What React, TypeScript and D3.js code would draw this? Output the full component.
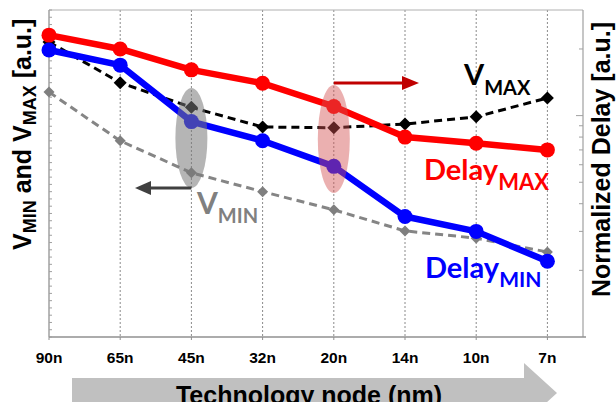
import React from "react";
import * as d3 from "d3";

const categories = ["90n", "65n", "45n", "32n", "20n", "14n", "10n", "7n"];
const delayMax = [23.1, 20.0, 16.1, 14.0, 11.0, 8.0, 7.5, 7.0];
const delayMin = [19.8, 16.9, 9.4, 7.7, 5.9, 3.5, 3.0, 2.2];
const vMax = [40.6, 35.0, 31.6, 28.9, 28.8, 29.3, 30.3, 32.9];
const vMin = [33.7, 27.0, 22.6, 20.0, 17.5, 14.6, 13.6, 11.7];
const rightTicks = [2, 3, 4, 5, 6, 7, 8, 9, 10, 20];

const W = 616, H = 402;
const L = 49, R = 583, T = 10, B = 337;
const AR = "'Liberation Sans', Arial, sans-serif";
const CAL = "Lato, 'Open Sans', sans-serif";

export default function App() {
  const step = (R - L) / 7.5;
  const x = d3.scalePoint<string>().domain(categories).range([L, L + step * 7]);
  const yL = d3.scaleLinear().domain([0, 45]).range([B, T]);
  const yR = d3.scaleLog().domain([1, 30]).range([B, T]);

  const lineL = d3.line<number>().x((_, i) => x(categories[i])!).y((d) => yL(d));
  const lineR = d3.line<number>().x((_, i) => x(categories[i])!).y((d) => yR(d));

  const diamond = (cx: number, cy: number, s: number) =>
    `M${cx},${cy - s}L${cx + s},${cy}L${cx},${cy + s}L${cx - s},${cy}Z`;

  const leftTicks = d3.range(0, 46);
  const x45 = x("45n")!;
  const x20 = x("20n")!;

  return (
    <svg width={W} height={H} style={{ position: "fixed", left: 0, top: 0, background: "#fff" }}>
      {/* grid */}
      {categories.slice(1).map((c) => (
        <line key={c} x1={x(c)} x2={x(c)} y1={T} y2={B} stroke="#8a8a8a" strokeWidth={1} strokeDasharray="2,2" />
      ))}
      {/* frame */}
      <line x1={L} x2={R} y1={T} y2={T} stroke="#b0b0b0" strokeWidth={1} />
      <line x1={R} x2={R} y1={T} y2={B} stroke="#a0a0a0" strokeWidth={1.2} />
      <line x1={L} x2={L} y1={T} y2={B} stroke="#a0a0a0" strokeWidth={1.5} />
      <line x1={L} x2={R + 3} y1={B} y2={B} stroke="#909090" strokeWidth={1.5} />
      {leftTicks.map((t) => (
        <line key={t} x1={L} x2={L + 3} y1={yL(t)} y2={yL(t)} stroke="#a0a0a0" strokeWidth={1} />
      ))}
      {rightTicks.map((t) => (
        <line key={t} x1={t === 10 ? R - 7 : R - 4} x2={R} y1={yR(t)} y2={yR(t)} stroke="#a0a0a0" strokeWidth={1} />
      ))}
      {categories.map((c) => (
        <line key={c} x1={x(c)} x2={x(c)} y1={B} y2={B + 3} stroke="#909090" strokeWidth={1} />
      ))}
      {/* tick labels */}
      {categories.map((c) => (
        <text key={c} x={x(c)} y={363} textAnchor="middle" fontFamily={AR} fontWeight="bold" fontSize={15.5} fill="#000">
          {c}
        </text>
      ))}

      {/* V lines */}
      <path d={lineL(vMin)!} fill="none" stroke="#858585" strokeWidth={3} strokeDasharray="8,5" />
      {vMin.map((v, i) => (
        <path key={i} d={diamond(x(categories[i])!, yL(v), 5.5)} fill="#7f7f7f" />
      ))}
      <path d={lineL(vMax)!} fill="none" stroke="#000" strokeWidth={3} strokeDasharray="8,5" />
      {vMax.map((v, i) => (
        <path key={i} d={diamond(x(categories[i])!, yL(v), 6.5)} fill="#000" />
      ))}

      {/* Delay lines */}
      <path d={lineR(delayMax)!} fill="none" stroke="#ff0000" strokeWidth={6.5} strokeLinejoin="round" />
      {delayMax.map((v, i) => (
        <circle key={i} cx={x(categories[i])} cy={yR(v)} r={7.5} fill="#ff0000" />
      ))}
      <path d={lineR(delayMin)!} fill="none" stroke="#0000ff" strokeWidth={6.5} strokeLinejoin="round" />
      {delayMin.map((v, i) => (
        <circle key={i} cx={x(categories[i])} cy={yR(v)} r={7.5} fill="#0000ff" />
      ))}

      {/* ellipses */}
      <ellipse cx={x45} cy={138} rx={16} ry={50} fill="rgba(120,120,120,0.55)" />
      <ellipse cx={x20} cy={139} rx={16} ry={54} fill="rgba(210,80,80,0.45)" />

      {/* arrows */}
      <line x1={x20} x2={404} y1={83} y2={83} stroke="#c00000" strokeWidth={3} />
      <path d="M402,76L419,83L402,90Z" fill="#c00000" />
      <line x1={x45} x2={149} y1={188} y2={188} stroke="#404040" strokeWidth={3} />
      <path d="M151,181L135,188L151,195Z" fill="#404040" />

      {/* labels */}
      <text x={464} y={85} fontFamily={CAL} fontWeight="bold" fontSize={29} fill="#000">
        V<tspan fontSize={20} dy={10}>MAX</tspan>
      </text>
      <text x={424} y={180} fontFamily={CAL} fontWeight="bold" fontSize={29} fill="#ff0000">
        Delay<tspan fontSize={22} dy={10}>MAX</tspan>
      </text>
      <text x={425} y={278} fontFamily={CAL} fontWeight="bold" fontSize={29} fill="#0000ff">
        Delay<tspan fontSize={21} dy={9}>MIN</tspan>
      </text>
      <text x={197} y={214} fontFamily={CAL} fontWeight="bold" fontSize={30} fill="#808080">
        V<tspan fontSize={20} dy={9}>MIN</tspan>
      </text>

      {/* axis titles */}
      <text transform="translate(31,250) rotate(-90)" fontFamily={AR} fontWeight="bold" fontSize={25} fill="#000">
        V<tspan fontSize={18} dy={5}>MIN</tspan><tspan dy={-5}> and V</tspan><tspan fontSize={18} dy={5}>MAX</tspan><tspan dy={-5}> [a.u.]</tspan>
      </text>
      <text transform="translate(610,297) rotate(-90)" fontFamily={AR} fontWeight="bold" fontSize={25} fill="#000">
        Normalized Delay [a.u.]
      </text>

      {/* bottom arrow */}
      <path d="M72,378L524,378L524,363L557,393L524,423L524,408L72,408Z" fill="#c0c0c0" />
      <text x={309} y={404} textAnchor="middle" fontFamily={AR} fontWeight="bold" fontSize={25} fill="#000">
        Technology node (nm)
      </text>
    </svg>
  );
}
